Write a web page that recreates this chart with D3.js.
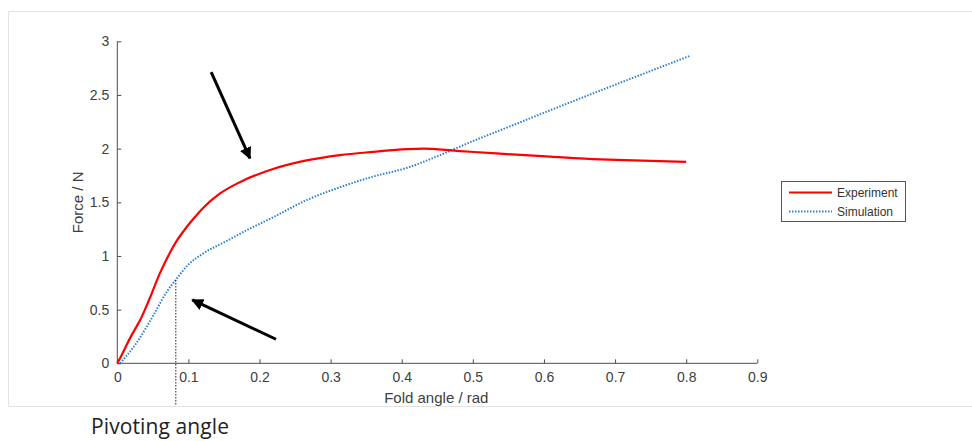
<!DOCTYPE html>
<html>
<head>
<meta charset="utf-8">
<script src="https://cdn.jsdelivr.net/npm/d3@7"></script>
<style>
  body { margin: 0; background: #fff; }
  svg { display: block; }
</style>
</head>
<body>
<div id="chart"></div>
<script>
// values (fold angle in rad, force in N)
var experiment = [
  [0, 0], [0.004, 0.05], [0.008, 0.1], [0.013, 0.17], [0.02, 0.26], [0.026, 0.33],
  [0.032, 0.40], [0.044, 0.58], [0.06, 0.84], [0.074, 1.03], [0.0835, 1.14],
  [0.093, 1.23], [0.105, 1.33], [0.121, 1.45], [0.144, 1.58], [0.173, 1.69],
  [0.219, 1.81], [0.266, 1.89], [0.313, 1.94], [0.36, 1.97],
  [0.407, 1.995], [0.43, 2.0], [0.477, 1.98], [0.533, 1.955], [0.609, 1.925],
  [0.679, 1.90], [0.726, 1.89], [0.8, 1.876]
];
var simulation = [
  [0.004, 0], [0.027, 0.19], [0.051, 0.45], [0.069, 0.66], [0.082, 0.776],
  [0.1, 0.92], [0.12, 1.02], [0.154, 1.14], [0.182, 1.24], [0.219, 1.36],
  [0.266, 1.52], [0.313, 1.64], [0.36, 1.74], [0.407, 1.82], [0.454, 1.94],
  [0.5, 2.07], [0.538, 2.17], [0.604, 2.345], [0.698, 2.59], [0.805, 2.864]
];
var xTicks = [0, 0.1, 0.2, 0.3, 0.4, 0.5, 0.6, 0.7, 0.8, 0.9];
var yTicks = [0, 0.5, 1, 1.5, 2, 2.5, 3];
var seriesNames = ["Experiment", "Simulation"];
var pivotAngle = [0.0823, 0.776];
var arrows = [
  { from: [0.132, 2.712], to: [0.1866, 1.91] },
  { from: [0.2232, 0.224], to: [0.1055, 0.59] }
];

var width = 972, height = 441;
var plot = { left: 117.3, right: 757.3, top: 41.3, bottom: 363.3 };

var svg = d3.select("#chart").append("svg")
  .attr("width", width)
  .attr("height", height);

svg.append("path")
  .attr("d", "M972,11.5H8.5V406.5H972")
  .attr("fill", "none")
  .attr("stroke", "#e3e3e3");

var x = d3.scaleLinear().domain([0, 0.9]).range([plot.left, plot.right]);
var y = d3.scaleLinear().domain([0, 3]).range([plot.bottom, plot.top]);

var axisColor = "#4d4d4d", textColor = "#404040";
var font = "'Liberation Sans', Arial, sans-serif";

var xAxis = svg.append("g")
  .attr("transform", "translate(0," + plot.bottom + ")")
  .call(d3.axisBottom(x).tickValues(xTicks).tickSize(-4).tickPadding(9)
    .tickFormat(function(d) { return d; }));
var yAxis = svg.append("g")
  .attr("transform", "translate(" + plot.left + ",0)")
  .call(d3.axisLeft(y).tickValues(yTicks).tickSize(-4).tickPadding(8)
    .tickFormat(function(d) { return d; }));

[xAxis, yAxis].forEach(function(g) {
  g.select(".domain").attr("stroke", axisColor);
  g.selectAll(".tick line").attr("stroke", axisColor);
  g.selectAll(".tick text")
    .attr("fill", textColor)
    .attr("font-family", font)
    .attr("font-size", 14);
});
xAxis.select(".domain").attr("d", "M" + plot.left + ",0H" + plot.right);
yAxis.select(".domain").attr("d", "M0," + plot.bottom + "V" + plot.top);

svg.append("text")
  .attr("x", (plot.left + plot.right) / 2 - 1)
  .attr("y", 403)
  .attr("text-anchor", "middle")
  .attr("font-family", font)
  .attr("font-size", 15)
  .attr("fill", textColor)
  .text("Fold angle / rad");

svg.append("text")
  .attr("transform", "translate(83," + (plot.top + plot.bottom) / 2 + ") rotate(-90)")
  .attr("text-anchor", "middle")
  .attr("font-family", font)
  .attr("font-size", 15)
  .attr("fill", textColor)
  .text("Force / N");

var line = d3.line()
  .x(function(d) { return x(d[0]); })
  .y(function(d) { return y(d[1]); })
  .curve(d3.curveMonotoneX);

svg.append("path")
  .datum(simulation)
  .attr("d", line)
  .attr("fill", "none")
  .attr("stroke", "#2f80cf")
  .attr("stroke-width", 2)
  .attr("stroke-dasharray", "1.5,1.5");

svg.append("path")
  .datum(experiment)
  .attr("d", line)
  .attr("fill", "none")
  .attr("stroke", "#ff0000")
  .attr("stroke-width", 2.2);

// pivot marker
svg.append("line")
  .attr("x1", x(pivotAngle[0])).attr("x2", x(pivotAngle[0]))
  .attr("y1", y(pivotAngle[1])).attr("y2", 406)
  .attr("stroke", "#222")
  .attr("stroke-width", 1)
  .attr("stroke-dasharray", "1.5,1.5");

svg.append("defs").append("marker")
  .attr("id", "head")
  .attr("viewBox", "0 0 10 10")
  .attr("refX", 9).attr("refY", 5)
  .attr("markerWidth", 4).attr("markerHeight", 4)
  .attr("markerUnits", "strokeWidth")
  .attr("orient", "auto")
  .append("path")
  .attr("d", "M0,0L10,5L0,10Z")
  .attr("fill", "#000");

svg.selectAll(".arrow")
  .data(arrows)
  .enter().append("line")
  .attr("class", "arrow")
  .attr("x1", function(d) { return x(d.from[0]); })
  .attr("y1", function(d) { return y(d.from[1]); })
  .attr("x2", function(d) { return x(d.to[0]); })
  .attr("y2", function(d) { return y(d.to[1]); })
  .attr("stroke", "#000")
  .attr("stroke-width", 3)
  .attr("marker-end", "url(#head)");

// legend
var legend = svg.append("g").attr("transform", "translate(781,181)");
legend.append("rect")
  .attr("x", 0.5).attr("y", 0.5)
  .attr("width", 124).attr("height", 40)
  .attr("fill", "#fff")
  .attr("stroke", "#555");
var legendStyles = [
  { color: "#ff0000", dash: null },
  { color: "#2f80cf", dash: "1.5,1.5" }
];
seriesNames.forEach(function(name, i) {
  var yy = 11.5 + i * 19;
  legend.append("line")
    .attr("x1", 8).attr("x2", 51)
    .attr("y1", yy).attr("y2", yy)
    .attr("stroke", legendStyles[i].color)
    .attr("stroke-width", 2)
    .attr("stroke-dasharray", legendStyles[i].dash);
  legend.append("text")
    .attr("x", 56).attr("y", yy + 4.5)
    .attr("font-family", font)
    .attr("font-size", 12)
    .attr("fill", "#333")
    .text(name);
});

svg.append("text")
  .attr("x", 91)
  .attr("y", 434)
  .attr("font-family", "'Open Sans', 'Noto Sans', sans-serif")
  .attr("font-size", 21)
  .attr("textLength", 138)
  .attr("fill", "#222")
  .text("Pivoting angle");
</script>
</body>
</html>
